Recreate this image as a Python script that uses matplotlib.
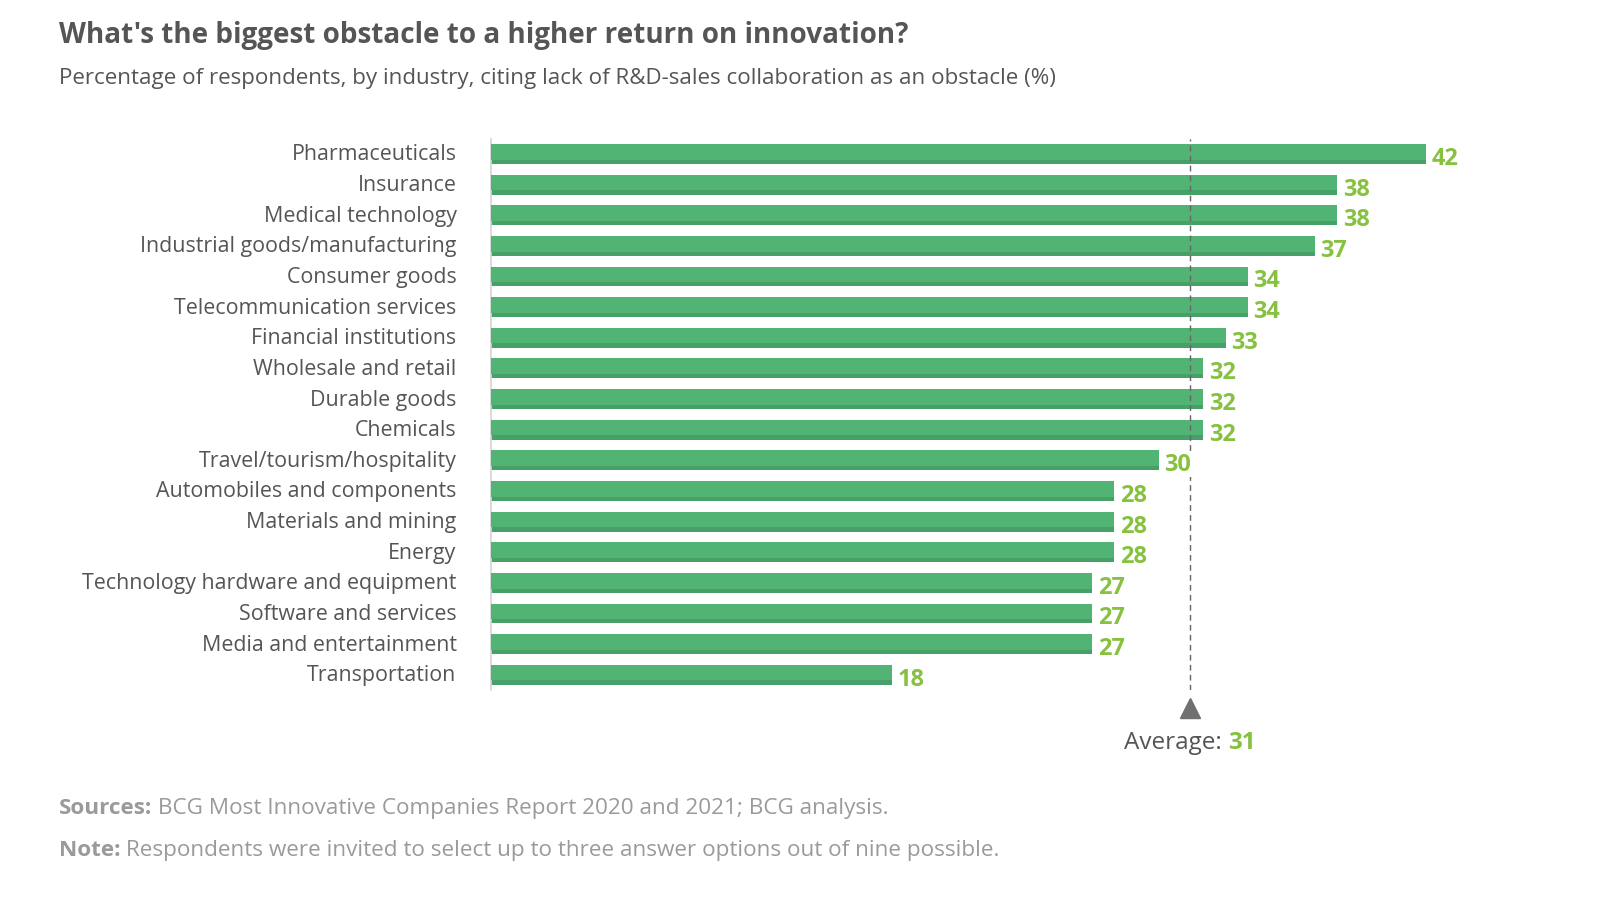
"""
BCG chart: biggest obstacle to a higher return on innovation (lack of R&D-sales collaboration).
"""
import matplotlib
matplotlib.use("Agg")
import matplotlib.pyplot as plt
from matplotlib.transforms import blended_transform_factory

plt.rcParams["font.family"] = ["Open Sans", "DejaVu Sans"]

industries = [
    "Pharmaceuticals", "Insurance", "Medical technology",
    "Industrial goods/manufacturing", "Consumer goods",
    "Telecommunication services", "Financial institutions",
    "Wholesale and retail", "Durable goods", "Chemicals",
    "Travel/tourism/hospitality", "Automobiles and components",
    "Materials and mining", "Energy", "Technology hardware and equipment",
    "Software and services", "Media and entertainment", "Transportation",
]
values  = [42, 38, 38, 37, 34, 34, 33, 32, 32, 32, 30, 28, 28, 28, 27, 27, 27, 18]
average = sum(values) / len(values)   # ~31.4, shown as 31

TITLE    = "What's the biggest obstacle to a higher return on innovation?"
SUBTITLE = ("Percentage of respondents, by industry, citing lack of R&D-sales "
            "collaboration as an obstacle (%)")
SOURCES  = ("Sources:", " BCG Most Innovative Companies Report 2020 and 2021; BCG analysis.")
NOTE     = ("Note:", " Respondents were invited to select up to three answer options out of nine possible.")

# colours
BAR_LIGHT = "#52b474"
BAR_DARK  = "#47a067"
VAL_GREEN = "#86c140"
TXT_DARK  = "#555555"
TXT_GRAY  = "#9a9a9a"

# layout worked out on a 1568-wide grid, rendered to 1610x900
W, H = 1568, 876.5
fig = plt.figure(figsize=(W / 100, H / 100), dpi=1610 / (W / 100))
ax = fig.add_axes([478 / W, 1 - 673 / H, 976 / W, 537 / H])

ypos = list(range(len(industries)))
bh = 0.65
# darker full bar, lighter bar on top leaving a shadow stripe at the bottom
ax.barh(ypos, values, height=bh, color=BAR_DARK, edgecolor="none", zorder=2)
ax.barh([y - 0.07 for y in ypos], values, height=bh - 0.14,
        color=BAR_LIGHT, edgecolor="none", zorder=3)

for y, v in zip(ypos, values):
    ax.text(v + 0.25, y + 0.13, str(v), ha="left", va="center",
            fontsize=16.5, fontweight="bold", color=VAL_GREEN, zorder=6,
            bbox=dict(boxstyle="square,pad=0.05", fc="white", ec="none"))

ax.set_xlim(0, 45)
ax.set_ylim(len(industries) - 0.5, -0.5)
ax.set_yticks(ypos)
ax.set_yticklabels(industries, fontsize=15, color=TXT_DARK, va="center")
ax.tick_params(axis="y", length=0, pad=24)
ax.set_xticks([])
for s in ["top", "right", "bottom"]:
    ax.spines[s].set_visible(False)
ax.spines["left"].set_color("#d4d4d4")
ax.spines["left"].set_linewidth(1.2)

# average marker
ax.axvline(average, ymin=0, ymax=1, color="#666666", lw=1, dashes=(4, 3), zorder=4)
trans = blended_transform_factory(ax.transData, ax.transAxes)
ax.plot([average], [-0.032], marker="^", markersize=14, color="#707070",
        transform=trans, clip_on=False)

fig.canvas.draw()
r = fig.canvas.get_renderer()
px = 1610 / W  # real pixels per layout unit

# "Average: 31" centred under the marker
t1 = fig.text(0, 0, "Average: ", fontsize=17, color=TXT_DARK, va="center")
t2 = fig.text(0, 0, f"{average:.0f}", fontsize=17, fontweight="bold",
              color=VAL_GREEN, va="center")
w1 = t1.get_window_extent(r).width
w2 = t2.get_window_extent(r).width
cx = ax.transData.transform((average, 0))[0]
x0 = cx - (w1 + w2) / 2
y_txt = 1 - 724 / H
t1.set_position((x0 / (W * px), y_txt))
t2.set_position(((x0 + w1) / (W * px), y_txt))

# title & subtitle
fig.text(57 / W, 1 - 35 / H, TITLE, fontsize=19.6, fontweight="bold",
         color=TXT_DARK, va="center")
fig.text(57 / W, 1 - 76 / H, SUBTITLE, fontsize=15.7, color=TXT_DARK, va="center")

# footer with bold lead-in words
for (bold, rest), ypix in [(SOURCES, 787), (NOTE, 828)]:
    b = fig.text(57 / W, 1 - ypix / H, bold, fontsize=15.8, fontweight="bold",
                 color=TXT_GRAY, va="center")
    bw = b.get_window_extent(r).width / px
    fig.text((57 + bw) / W, 1 - ypix / H, rest, fontsize=15.8,
             color=TXT_GRAY, va="center")

fig.savefig("out.png", dpi=fig.dpi, facecolor="white")
print("Saved out.png")
